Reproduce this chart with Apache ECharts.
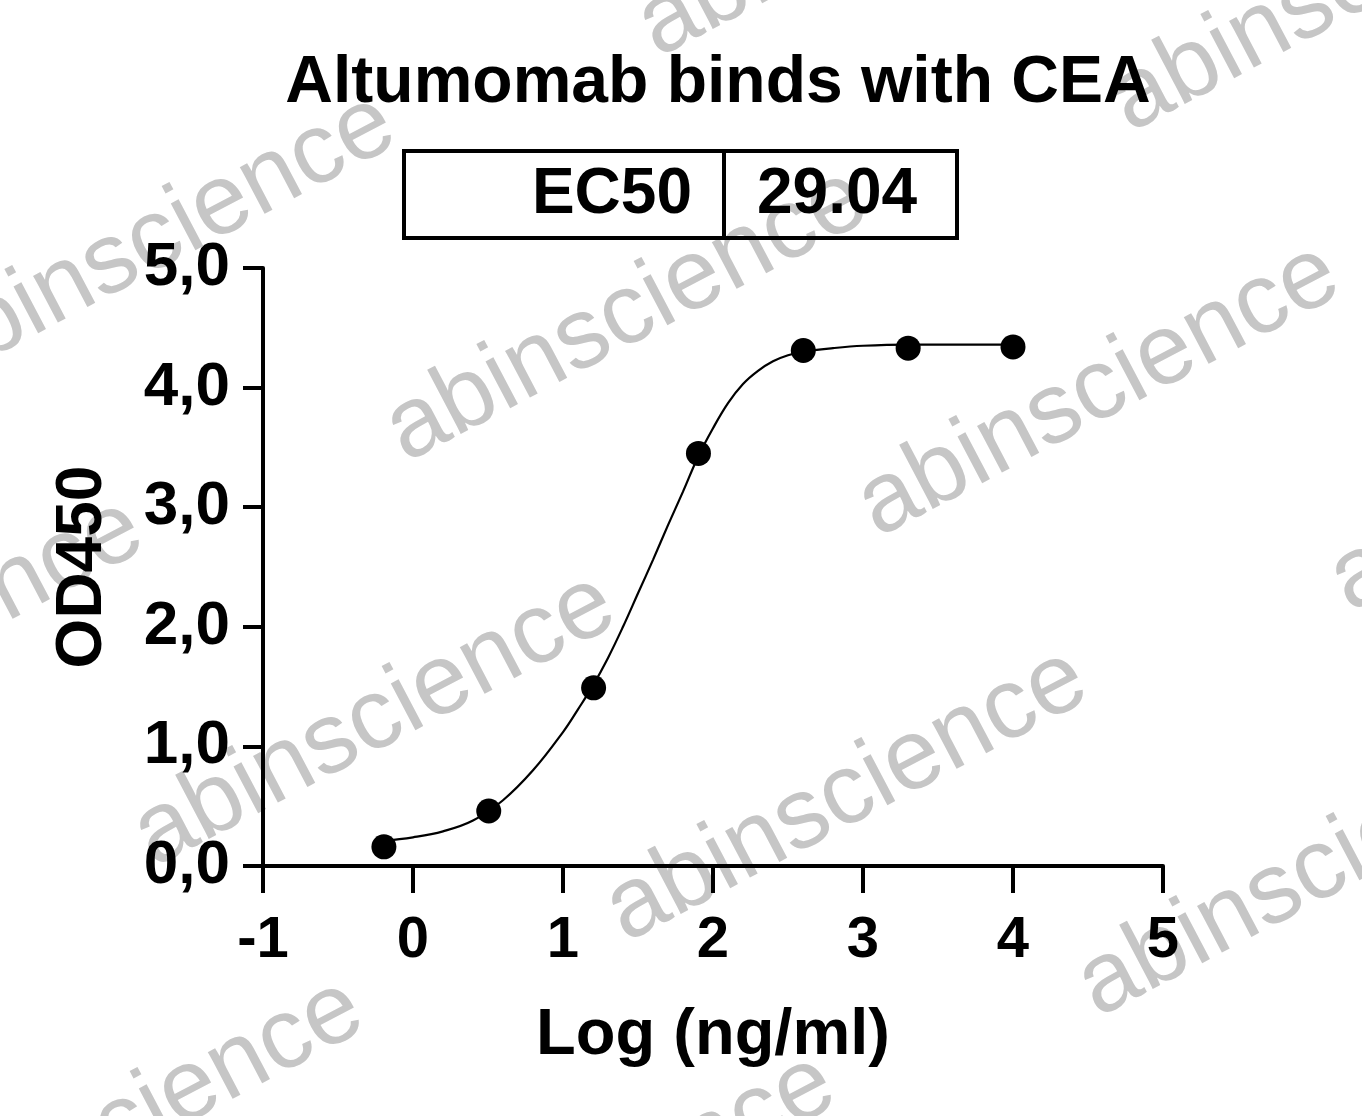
<!DOCTYPE html>
<html>
<head>
<meta charset="utf-8">
<script src="https://cdn.jsdelivr.net/npm/echarts@6/dist/echarts.min.js"></script>
<style>
  html, body { margin: 0; padding: 0; background: #ffffff; }
  #chart { width: 1362px; height: 1116px; }
</style>
</head>
<body>
<div id="chart"></div>
<script>
// ---- data ----
const chartTitle = 'Altumomab binds with CEA';
const ec50Label = 'EC50';
const ec50Value = '29.04';
const xAxisName = 'Log (ng/ml)';
const yAxisName = 'OD450';
const watermarkText = 'abinscience';

// measured points: log concentration vs OD450
const logConc = [-0.194, 0.505, 1.204, 1.903, 2.602, 3.301, 4.0];
const od450 = [0.16, 0.46, 1.49, 3.45, 4.31, 4.33, 4.34];

// fitted curve
const curveX = [-0.2, 0.0, 0.2, 0.4, 0.6, 0.8, 1.0, 1.1, 1.2, 1.3, 1.4, 1.5, 1.6, 1.7, 1.8, 1.9, 2.0, 2.1, 2.2, 2.3, 2.4, 2.5, 2.6, 2.8, 3.0, 3.3, 3.6, 4.0];
const curveY = [0.21, 0.24, 0.29, 0.38, 0.55, 0.80, 1.12, 1.31, 1.51, 1.74, 2.00, 2.28, 2.56, 2.85, 3.13, 3.42, 3.66, 3.87, 4.03, 4.14, 4.22, 4.27, 4.30, 4.33, 4.35, 4.36, 4.36, 4.36];

// axis ranges / ticks
const xMin = -1, xMax = 5, xStep = 1;
const yMin = 0, yMax = 5, yStep = 1;

const FONT = '"Liberation Sans", Arial, Helvetica, sans-serif';

// watermark lattice (decoration)
const wm = [];
const ang = Math.atan2(250, 475);
const up = 2, along = 10;
for (let i = -2; i <= 3; i++) {
  for (let j = -2; j <= 3; j++) {
    const bx = 385 + i * 472 + j * (-252);
    const by = 445 + i * 75 + j * 405;
    if (bx > -600 && bx < 1400 && by > -300 && by < 1500) {
      wm.push({
        type: 'text',
        x: bx - Math.sin(ang) * up + Math.cos(ang) * along,
        y: by - Math.cos(ang) * up - Math.sin(ang) * along,
        rotation: ang, z: -10, silent: true,
        style: { text: watermarkText, fill: '#c6c6c6', font: '100px ' + FONT,
                 textAlign: 'left', textVerticalAlign: 'middle' }
      });
    }
  }
}

const chart = echarts.init(document.getElementById('chart'), null, { renderer: 'canvas' });

const option = {
  backgroundColor: '#ffffff',
  animation: false,
  title: {
    text: chartTitle,
    left: 713, top: 46, textAlign: 'center',
    textStyle: { fontFamily: FONT, fontWeight: 'bold', fontSize: 66, color: '#000' }
  },
  grid: { left: 263, right: 199, top: 268, bottom: 250, containLabel: false },
  xAxis: {
    type: 'value', min: xMin, max: xMax, interval: xStep,
    name: xAxisName, nameLocation: 'middle', nameGap: 138,
    nameTextStyle: { fontFamily: FONT, fontWeight: 'bold', fontSize: 65, color: '#000' },
    axisLine: { show: true, onZero: false, lineStyle: { color: '#000', width: 4 } },
    axisTick: { show: true, inside: false, length: 27, lineStyle: { color: '#000', width: 4 } },
    axisLabel: { margin: 46, fontFamily: FONT, fontWeight: 'bold', fontSize: 58, color: '#000',
                 formatter: v => String(v) },
    splitLine: { show: false }
  },
  yAxis: {
    type: 'value', min: yMin, max: yMax, interval: yStep,
    name: yAxisName, nameLocation: 'middle', nameGap: 148, nameRotate: 90,
    nameTextStyle: { fontFamily: FONT, fontWeight: 'bold', fontSize: 64, color: '#000' },
    axisLine: { show: true, onZero: false, lineStyle: { color: '#000', width: 4 } },
    axisTick: { show: true, inside: false, length: 20, lineStyle: { color: '#000', width: 4 } },
    axisLabel: { margin: 33, fontFamily: FONT, fontWeight: 'bold', fontSize: 62, color: '#000',
                 formatter: v => v.toFixed(1).replace('.', ',') },
    splitLine: { show: false }
  },
  graphic: wm.concat([
    { type: 'rect', shape: { x: 404, y: 151, width: 553, height: 87 }, z: 10,
      style: { fill: 'rgba(255,255,255,0)', stroke: '#000', lineWidth: 4 } },
    { type: 'line', shape: { x1: 724, y1: 151, x2: 724, y2: 238 }, z: 11,
      style: { stroke: '#000', lineWidth: 4 } },
    { type: 'text', x: 692, y: 195, z: 12,
      style: { text: ec50Label, fill: '#000', font: 'bold 64px ' + FONT, textAlign: 'right', textVerticalAlign: 'middle' } },
    { type: 'text', x: 757, y: 195, z: 12,
      style: { text: ec50Value, fill: '#000', font: 'bold 64px ' + FONT, textAlign: 'left', textVerticalAlign: 'middle' } }
  ]),
  series: [
    {
      name: 'Fit', type: 'line', smooth: 0.4, showSymbol: false, z: 3,
      lineStyle: { color: '#000', width: 2.2 },
      data: curveX.map((x, i) => [x, curveY[i]])
    },
    {
      name: 'OD450', type: 'scatter', symbol: 'circle', symbolSize: 25, z: 4,
      itemStyle: { color: '#000', opacity: 1 },
      data: logConc.map((x, i) => [x, od450[i]])
    }
  ]
};
chart.setOption(option);
</script>
</body>
</html>
